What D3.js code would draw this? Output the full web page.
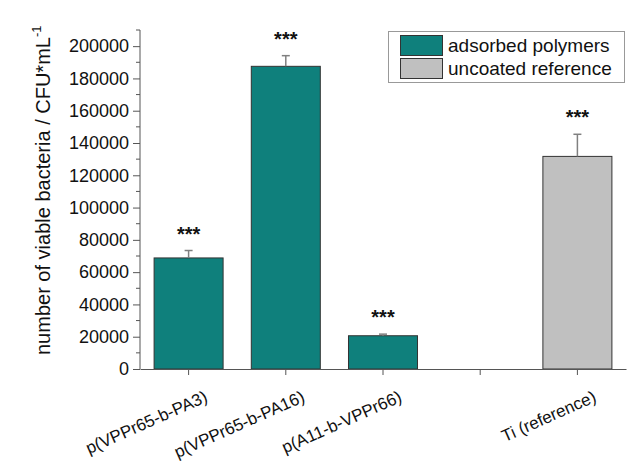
<!DOCTYPE html>
<html>
<head>
<meta charset="utf-8">
<script src="https://cdn.jsdelivr.net/npm/d3@7"></script>
<style>
  body { margin: 0; background: #fff; }
  text { font-family: "Liberation Sans", Arial, sans-serif; fill: #111; }
</style>
</head>
<body>
<svg id="chart" width="633" height="461"></svg>
<script>
// Viable bacteria counts on coated and uncoated titanium
const categories = ["p(VPPr65-b-PA3)", "p(VPPr65-b-PA16)", "p(A11-b-VPPr66)", "", "Ti (reference)"];
const counts     = [68800, 187500, 20600, null, 131700];
const errors     = [4600, 6600, 1000, null, 13700];
const groups     = ["adsorbed polymers", "adsorbed polymers", "adsorbed polymers", null, "uncoated reference"];
const significance = ["***", "***", "***", null, "***"];
const yTicks     = [0, 20000, 40000, 60000, 80000, 100000, 120000, 140000, 160000, 180000, 200000];
const legendItems = ["adsorbed polymers", "uncoated reference"];

const colors = { "adsorbed polymers": "#0f807c", "uncoated reference": "#c0c0c0" };
const axisColor = "#555";

const svg = d3.select("#chart");
const plotLeft = 140, plotRight = 626, plotTop = 30, plotBottom = 369;

const x = d3.scaleBand().domain(d3.range(categories.length)).range([plotLeft, plotRight]).paddingInner(0.29).paddingOuter(0.145);
const y = d3.scaleLinear().domain([0, 210000]).range([plotBottom, plotTop]);

// bars
const rows = categories.map((c, i) => ({ i, c, v: counts[i], e: errors[i], g: groups[i], s: significance[i] }))
  .filter(d => d.v != null);

svg.append("g").selectAll("rect").data(rows).join("rect")
  .attr("x", d => x(d.i)).attr("width", x.bandwidth())
  .attr("y", d => y(d.v)).attr("height", d => y(0) - y(d.v))
  .attr("fill", d => colors[d.g]).attr("stroke", "#333").attr("stroke-width", 1);

// error bars (upper only)
const eb = svg.append("g").attr("stroke", "#808080").attr("stroke-width", 1.5);
rows.forEach(d => {
  const cx = x(d.i) + x.bandwidth() / 2;
  eb.append("line").attr("x1", cx).attr("x2", cx).attr("y1", y(d.v)).attr("y2", y(d.v + d.e));
  eb.append("line").attr("x1", cx - 4).attr("x2", cx + 4).attr("y1", y(d.v + d.e)).attr("y2", y(d.v + d.e));
});

// significance marks
svg.append("g").selectAll("text").data(rows).join("text")
  .attr("x", d => x(d.i) + x.bandwidth() / 2)
  .attr("y", d => y(d.v + d.e) - 22 + 12)
  .attr("text-anchor", "middle")
  .style("font-size", "20px").style("font-weight", "bold")
  .text(d => d.s);

// y axis
const yAxis = svg.append("g").attr("transform", `translate(${plotLeft},0)`)
  .call(d3.axisLeft(y).tickValues(yTicks).tickSize(7).tickPadding(4).tickFormat(d3.format("d")));
yAxis.select(".domain").attr("d", `M0,${plotBottom}V${plotTop}`);
yAxis.selectAll("line").attr("stroke", axisColor);
yAxis.select(".domain").attr("stroke", axisColor);
yAxis.selectAll("text").style("font-size", "18px").attr("fill", "#111");

// minor ticks
svg.append("g").attr("stroke", axisColor).selectAll("line")
  .data(d3.range(10000, 210001, 20000)).join("line")
  .attr("x1", plotLeft - 4).attr("x2", plotLeft).attr("y1", d => y(d)).attr("y2", d => y(d));

// x axis
const xAxis = svg.append("g").attr("transform", `translate(0,${plotBottom})`)
  .call(d3.axisBottom(x).tickSize(6).tickSizeOuter(0).tickFormat(""));
xAxis.select(".domain").attr("stroke", axisColor);
xAxis.selectAll("line").attr("stroke", axisColor);

svg.append("g").selectAll("text").data(categories.map((c, i) => ({ c, i })).filter(d => d.c)).join("text")
  .attr("transform", d => `translate(${x(d.i) + x.bandwidth() / 2 + 20},401) rotate(-24)`)
  .attr("text-anchor", "end")
  .style("font-size", "17px")
  .text(d => d.c);

// y label
const yl = svg.append("text")
  .attr("transform", "translate(50,355) rotate(-90)")
  .attr("text-anchor", "start")
  .style("font-size", "20px");
yl.append("tspan").text("number of viable bacteria / CFU*mL");
yl.append("tspan").attr("dy", -9).style("font-size", "13px").text("-1");

// legend
const lg = svg.append("g");
lg.append("rect").attr("x", 388.5).attr("y", 31.5).attr("width", 236).attr("height", 51)
  .attr("fill", "#fff").attr("stroke", "#999");
legendItems.forEach((name, k) => {
  lg.append("rect").attr("x", 400.5).attr("y", 35.5 + k * 23).attr("width", 42).attr("height", 20)
    .attr("fill", colors[name]).attr("stroke", "#333");
  lg.append("text").attr("x", 448).attr("y", 52 + k * 23).style("font-size", "19px").text(name);
});
</script>
</body>
</html>
